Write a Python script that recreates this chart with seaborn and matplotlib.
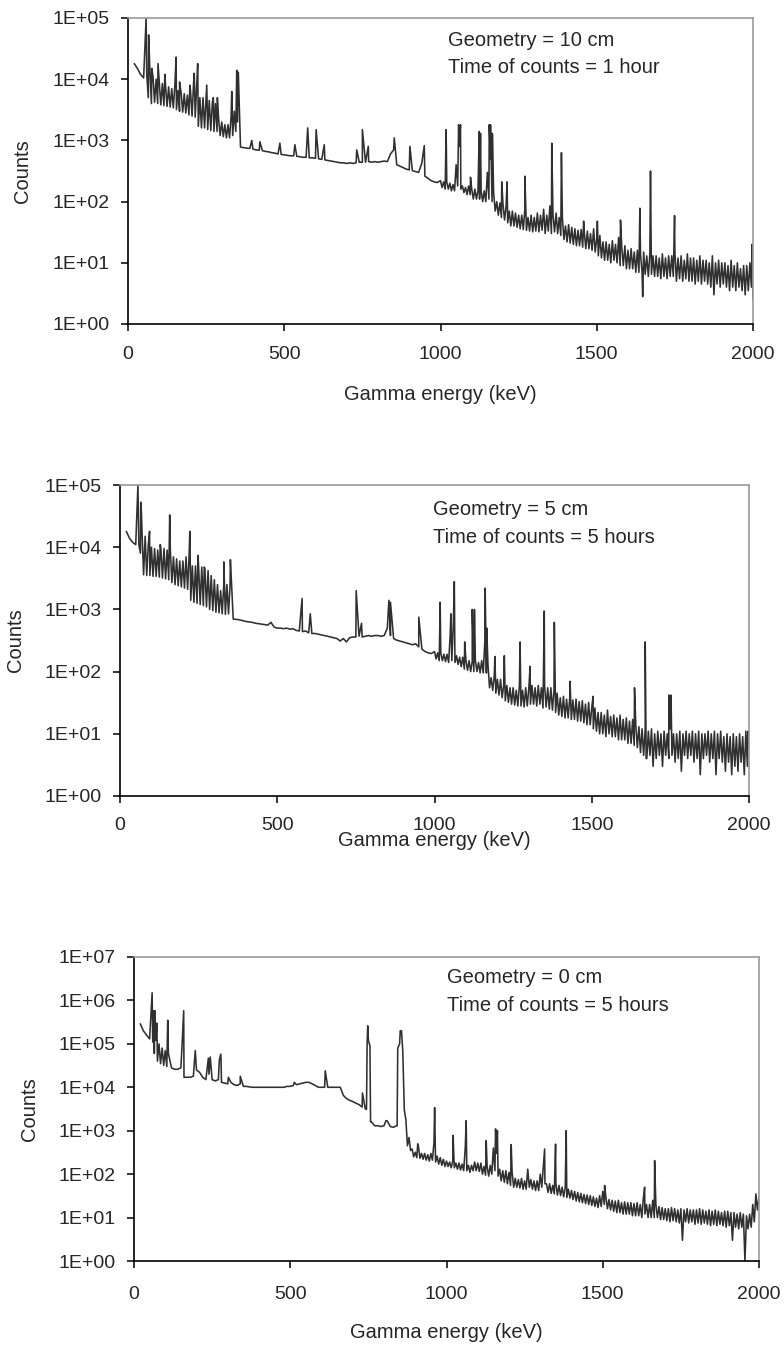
import numpy as np
import pandas as pd
import seaborn as sns
import matplotlib
matplotlib.use("Agg")
import matplotlib.pyplot as plt
from matplotlib.ticker import FuncFormatter, NullLocator

# channel grid (keV): even channels for every spectrum, odd channels only where the trace is noisy
energy = list(range(20, 2001, 10))
odd_e_10cm = list(range(65, 350, 10)) + list(range(1005, 2000, 10))
odd_e_5cm = list(range(65, 350, 10)) + list(range(1005, 2000, 10))
odd_e_0cm = list(range(65, 110, 10)) + list(range(875, 2000, 10))

# --- Geometry = 10 cm, 1 hour ---
counts_10cm = [
    18000, 15000, 12000, 10500, 12000, 14000, 11000, 10000, 9000, 8500,
    8000, 7500, 7000, 8000, 6500, 6000, 5800, 5500, 6500, 9000,
    8000, 5000, 5000, 4800, 4500, 4200, 4000, 2200, 2000, 1800,
    1800, 2500, 3000, 2000, 780, 760, 750, 740, 720, 700,
    690, 680, 660, 650, 630, 620, 600, 590, 580, 570,
    560, 560, 550, 540, 530, 530, 520, 520, 510, 500,
    490, 480, 470, 460, 450, 440, 430, 430, 420, 430,
    420, 430, 440, 440, 440, 450, 440, 450, 440, 450,
    460, 450, 600, 700, 400, 380, 360, 340, 330, 320,
    310, 300, 420, 260, 240, 220, 210, 205, 220, 210,
    210, 200, 190, 400, 800, 180, 170, 180, 160, 160,
    150, 150, 150, 300, 500, 140, 100, 95, 90, 85,
    70, 70, 65, 60, 60, 75, 55, 60, 55, 65,
    60, 75, 60, 85, 60, 65, 55, 55, 40, 42,
    38, 36, 34, 35, 32, 33, 30, 36, 25, 28,
    22, 22, 20, 23, 20, 26, 18, 19, 16, 17,
    15, 16, 14, 15, 13, 14, 13, 13, 12, 14,
    12, 13, 13, 15, 12, 13, 11, 14, 12, 12,
    11, 13, 11, 11, 10, 13, 10, 11, 10, 10,
    9, 11, 9, 10, 8, 9, 9, 10, 2.5,
]
odd_10cm = [
    5000, 4000, 4200, 4000, 3800, 3700, 3600, 3500, 3400, 3200,
    3000, 2900, 2800, 2600, 2500, 2400, 1700, 1600, 1600, 1500,
    1450, 1400, 1400, 1200, 1150, 1100, 1100, 1200, 1400,
    170, 160, 160, 150, 150, 180, 160, 140, 130, 130,
    110, 110, 110, 100, 100, 110, 100, 70, 60, 55,
    50, 45, 40, 40, 38, 36, 35, 34, 33, 32,
    33, 32, 34, 30, 33, 30, 32, 30, 28, 24,
    22, 21, 20, 19, 19, 18, 17, 17, 16, 15,
    13, 12, 11, 11, 10, 11, 10, 9, 9, 8,
    8, 8, 7, 7, 7, 6.5, 6, 6.5, 6, 6,
    5.5, 6, 5.5, 6, 6, 5, 5.5, 5, 5.5, 5,
    5, 4.5, 5, 4.5, 5, 4.5, 4, 3, 4.5, 4,
    4.5, 4, 3.5, 4, 3.5, 4, 3.5, 3, 3.5, 4,
]
peaks_10cm_e = [58, 66, 76, 96, 118, 154, 165, 198, 212, 223, 252, 273, 286, 332, 348, 353,
                396, 422, 486, 534, 575, 602, 628, 732, 750, 769, 852, 902, 948,
                1018, 1058, 1064, 1096, 1124, 1128, 1156, 1160, 1166, 1196, 1213, 1270,
                1356, 1387, 1458, 1502, 1576, 1638, 1647, 1672, 1749, 1997]
peaks_10cm_c = [100000, 53000, 15000, 18000, 12000, 23000, 9000, 8000, 12500, 18000, 8000, 5000, 5000, 6300, 14000, 13000,
                1000, 950, 900, 850, 1600, 1500, 850, 700, 1500, 800, 1100, 800, 820,
                1500, 1800, 1800, 250, 1400, 1300, 1800, 1800, 1300, 210, 210, 260,
                900, 630, 48, 48, 50, 78, 2.8, 316, 59, 20]

# --- Geometry = 5 cm, 5 hours ---
counts_5cm = [
    18000, 14000, 12000, 11000, 11000, 18000, 15000, 11000, 10000, 9500,
    9000, 9500, 9500, 9000, 9000, 7000, 6500, 6000, 6000, 7000,
    8000, 5000, 5000, 4800, 4800, 4500, 4200, 3500, 3000, 2500,
    2000, 2500, 2500, 2500, 700, 690, 680, 660, 640, 630,
    620, 600, 590, 580, 570, 560, 620, 520, 500, 500,
    490, 500, 480, 490, 460, 450, 440, 450, 420, 410,
    410, 400, 390, 380, 370, 360, 350, 340, 310, 340,
    300, 350, 360, 360, 370, 360, 370, 380, 370, 380,
    380, 370, 380, 500, 380, 340, 320, 310, 300, 290,
    280, 270, 280, 250, 230, 210, 200, 195, 210, 200,
    200, 190, 190, 400, 600, 180, 170, 170, 150, 150,
    145, 150, 140, 150, 300, 130, 80, 85, 75, 75,
    60, 60, 55, 55, 50, 60, 50, 55, 55, 60,
    55, 60, 55, 60, 55, 55, 50, 45, 38, 40,
    36, 38, 35, 36, 33, 34, 30, 32, 26, 26,
    22, 22, 20, 24, 19, 20, 18, 20, 17, 18,
    16, 17, 14, 13, 12, 12, 11, 12, 10, 11,
    10, 11, 10, 12, 10, 10, 11, 10, 11, 10,
    11, 10, 11, 10, 10, 11, 10, 11, 10, 11,
    9, 10, 9, 10, 9, 10, 9, 11, 6,
]
odd_5cm = [
    8000, 3600, 3500, 3500, 3400, 3400, 3300, 3200, 3100, 3000,
    2700, 2500, 2400, 2300, 2200, 2100, 1400, 1300, 1250, 1200,
    1150, 1100, 1000, 950, 900, 880, 850, 830, 850,
    160, 150, 150, 145, 140, 150, 140, 130, 120, 110,
    105, 100, 100, 100, 95, 95, 95, 55, 50, 45,
    42, 38, 34, 32, 30, 29, 28, 28, 27, 28,
    30, 30, 28, 30, 26, 27, 25, 24, 22, 20,
    19, 18, 18, 17, 17, 16, 16, 15, 14, 14,
    12, 11, 10, 10, 9, 10, 9, 9, 8, 8,
    8, 7, 7, 6.5, 6, 5, 4.5, 4, 4.5, 3,
    4, 4.5, 3, 4.5, 4, 4.5, 3.5, 4, 2.5, 4.5,
    4, 4.5, 3.5, 4, 2.2, 4, 4.5, 3.5, 4, 2.2,
    4, 3.5, 2.5, 3.5, 2.2, 3, 2.5, 3.5, 2.2, 3,
]
peaks_5cm_e = [57, 66, 68, 94, 128, 158, 222, 248, 268, 330, 351,
               579, 605, 751, 768, 855, 860, 950,
               1018, 1052, 1063, 1096, 1120, 1127, 1161, 1166, 1192, 1222, 1272, 1304,
               1349, 1381, 1431, 1504, 1636, 1670, 1673, 1745, 1752, 1997]
peaks_5cm_c = [100000, 53000, 37000, 18000, 11000, 33000, 18000, 7400, 4800, 5800, 6300,
               1500, 850, 2000, 600, 1400, 1300, 750,
               1300, 850, 2800, 300, 1000, 1000, 2200, 500, 175, 180, 300, 122,
               940, 620, 70, 40, 55, 300, 4, 42, 42, 11]

# --- Geometry = 0 cm, 5 hours ---
counts_0cm = [
    290000, 200000, 160000, 130000, 110000, 120000, 100000, 80000, 70000, 60000,
    28000, 26000, 26000, 28000, 17000, 17000, 17000, 18000, 25000, 22000,
    17000, 15000, 20000, 15000, 14000, 15000, 13000, 12500, 12000, 13000,
    11500, 11000, 12000, 10500, 10500, 10200, 10000, 10000, 10000, 10000,
    10000, 10000, 10000, 10000, 10000, 10000, 10000, 10500, 10500, 11000,
    11500, 12000, 12500, 13000, 13000, 12000, 11000, 10000, 10000, 10000,
    10000, 10000, 10000, 10000, 10000, 6500, 5500, 5000, 4700, 4300,
    4000, 3500, 3200, 120000, 1600, 1300, 1300, 1250, 1300, 1700,
    1250, 1200, 1300, 100000, 70000, 1800, 700, 380, 320, 450,
    300, 300, 280, 300, 550, 260, 240, 220, 200, 190,
    200, 180, 180, 170, 400, 160, 160, 190, 180, 180,
    150, 150, 160, 400, 300, 130, 120, 120, 110, 110,
    80, 75, 80, 70, 130, 75, 70, 70, 100, 150,
    60, 60, 55, 60, 55, 50, 50, 45, 42, 40,
    38, 36, 34, 33, 32, 30, 28, 32, 40, 30,
    26, 25, 24, 25, 22, 23, 22, 22, 21, 22,
    20, 28, 20, 20, 25, 20, 18, 17, 16, 16,
    17, 16, 15, 16, 15, 16, 15, 15, 15, 16,
    15, 14, 15, 14, 15, 14, 13, 14, 14, 13,
    13, 12, 13, 12, 11, 12, 20, 35, 30,
]
odd_0cm = [
    60000, 40000, 35000, 32000, 30000,
    450, 350, 250, 240, 230, 220, 210, 200, 210, 190, 170, 160, 150,
    150, 140, 140, 130, 125, 120, 120, 110, 120, 120,
    115, 100, 95, 90, 100, 120, 90, 70, 65, 60,
    55, 50, 50, 48, 45, 45, 50, 45, 42, 42,
    50, 60, 38, 36, 35, 33, 32, 30, 29, 28,
    26, 24, 23, 22, 21, 20, 19, 18, 17, 18,
    20, 16, 15, 14, 13, 13, 12, 12, 12, 11,
    11, 11, 10, 12, 10, 10, 10, 10, 9, 9,
    8.5, 8, 8.5, 8, 7.5, 3, 8, 7.5, 8, 7,
    7.5, 7, 7.5, 7, 6.5, 7, 6.5, 7, 6.5, 6,
    6.5, 3, 6, 5.5, 6, 1, 5.5, 6, 8, 15,
]
peaks_0cm_e = [58, 63, 67, 73, 108, 154, 159, 196, 238, 244, 273, 278, 302, 340, 513, 612,
               731, 744, 746, 748, 755, 757, 806, 842, 844, 852, 856, 862, 865,
               908, 962, 1021, 1063, 1127, 1157, 1163, 1207,
               1314, 1349, 1383, 1506, 1634, 1666]
peaks_0cm_c = [1500000, 580000, 580000, 300000, 350000, 100000, 580000, 70000, 47000, 50000, 42000, 58000, 17000, 18000, 13000, 24000,
               7400, 3100, 100000, 260000, 90000, 1600, 1700, 1300, 80000, 200000, 200000, 20000, 3000,
               500, 3400, 780, 1700, 590, 1100, 1000, 480,
               380, 490, 1000, 55, 50, 205]

labels = [("Geometry = 10 cm", "Time of counts = 1 hour"),
          ("Geometry = 5 cm", "Time of counts = 5 hours"),
          ("Geometry = 0 cm", "Time of counts = 5 hours")]


def make_frame(base, odd_e, odd_c, pk_e, pk_c):
    assert len(base) == len(energy) and len(odd_e) == len(odd_c) and len(pk_e) == len(pk_c)
    df = pd.DataFrame({"energy": energy + odd_e + pk_e, "counts": base + odd_c + pk_c})
    return df.sort_values("energy", kind="stable").reset_index(drop=True)


sns.set_style("ticks")
plt.rcParams["font.family"] = ["Liberation Sans", "DejaVu Sans"]

fig = plt.figure(figsize=(7.84, 13.47), dpi=100)
W, H = 784, 1347

# pixel boxes (left, top, right, bottom)
boxes = [(128, 18, 753, 324), (120, 485, 749, 796), (134, 957, 759, 1261)]
ytop = [5, 5, 7]
text_pos = [(0.512, 0.928, 0.837), (0.498, 0.920, 0.830), (0.501, 0.934, 0.842)]
ylabel_x = [23, 15, 29]
xlabel_off = [71, 45, 72]
xtick_pad = [11, 10, 13]

frames = [make_frame(counts_10cm, odd_e_10cm, odd_10cm, peaks_10cm_e, peaks_10cm_c),
          make_frame(counts_5cm, odd_e_5cm, odd_5cm, peaks_5cm_e, peaks_5cm_c),
          make_frame(counts_0cm, odd_e_0cm, odd_0cm, peaks_0cm_e, peaks_0cm_c)]

for i, df in enumerate(frames):
    l, t, r, b = boxes[i]
    ax = fig.add_axes([l / W, 1 - b / H, (r - l) / W, (b - t) / H])
    sns.lineplot(data=df, x="energy", y="counts", ax=ax, estimator=None, sort=False,
                 color="#303030", linewidth=1.15)
    ax.set_yscale("log")
    ax.set_ylim(1, 10 ** ytop[i])
    ax.set_xlim(0, 2000)
    ax.set_xticks([0, 500, 1000, 1500, 2000])
    ax.set_yticks([10 ** k for k in range(0, ytop[i] + 1)])
    ax.yaxis.set_minor_locator(NullLocator())
    ax.yaxis.set_major_formatter(FuncFormatter(lambda v, p: "1E+%02d" % int(round(np.log10(v)))))
    ax.tick_params(axis="both", direction="out", length=5, width=1.1, labelsize=14, color="black")
    ax.tick_params(axis="x", pad=xtick_pad[i])
    ax.tick_params(axis="y", pad=8)

    for s in ["left", "bottom"]:
        ax.spines[s].set_color("black")
        ax.spines[s].set_linewidth(1.2)
    for s in ["top", "right"]:
        ax.spines[s].set_color("#9a9a9a")
        ax.spines[s].set_linewidth(1.2)

    ax.set_ylabel("Counts", fontsize=14.5, va="center")
    ax.yaxis.set_label_coords(-(l - ylabel_x[i]) / (r - l), 0.5)
    ax.set_xlabel("Gamma energy (keV)", fontsize=14.5, va="center")
    ax.xaxis.set_label_coords(0.5, -xlabel_off[i] / (b - t))

    tx, ty1, ty2 = text_pos[i]
    ax.text(tx, ty1, labels[i][0], transform=ax.transAxes, fontsize=14.5, va="center", ha="left")
    ax.text(tx, ty2, labels[i][1], transform=ax.transAxes, fontsize=14.5, va="center", ha="left")

fig.savefig("out.png", dpi=100)
